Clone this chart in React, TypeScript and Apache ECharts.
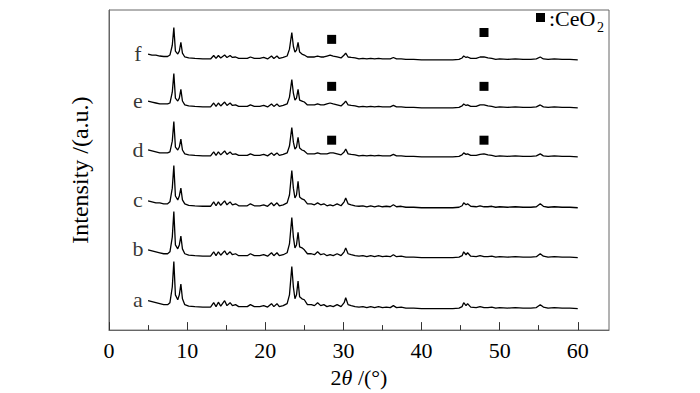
import React, { useEffect, useRef } from "react";
import * as echarts from "echarts";

const TWO_THETA = [
  5.0, 5.5, 6.0, 6.5, 7.0, 7.5, 7.8, 8.1, 8.3, 8.5,
  8.8, 9.0, 9.2, 9.4, 9.7, 10.2, 11.0, 12.0, 13.0, 13.4,
  13.7, 14.0, 14.3, 14.8, 15.1, 15.5, 15.8, 16.2, 16.6, 17.2,
  17.7, 18.1, 18.6, 19.3, 19.8, 20.3, 20.8, 21.1, 21.5, 21.8,
  22.3, 22.8, 23.1, 23.4, 23.6, 23.8, 24.0, 24.2, 24.4, 24.7,
  25.0, 25.4, 25.9, 26.3, 26.7, 27.1, 27.5, 27.9, 28.3, 28.7,
  29.2, 29.7, 30.1, 30.3, 30.6, 31.0, 31.5, 32.0, 32.5, 33.0,
  33.5, 34.0, 34.5, 35.0, 35.5, 36.0, 36.4, 36.8, 37.4, 38.0,
  39.0, 40.0, 41.0, 42.0, 43.0, 44.0, 44.8, 45.2, 45.4, 45.7,
  45.9, 46.3, 47.0, 47.5, 48.0, 48.5, 49.0, 49.5, 50.0, 51.0,
  52.0, 53.0, 54.0, 54.7, 55.2, 55.6, 56.2, 57.0, 58.0, 59.0, 60.0,
];

const SAMPLE_NAMES = ["a", "b", "c", "d", "e", "f"];
const OFFSETS = [22, 74, 125, 177, 227, 276];

const INT_A = [
  8, 7, 6, 5, 4, 4, 6, 22, 48, 14,
  9, 14, 25, 10, 4, 2.5, 2, 1.5, 1.5, 6,
  2, 6.5, 2.5, 8, 3, 6, 3, 4, 2, 2,
  2, 4, 2, 2, 3, 1.5, 5, 2, 5, 2,
  3, 5, 14, 43, 22, 10, 14, 28, 12, 10,
  9, 4, 4, 3, 6, 3, 4, 2, 3, 2,
  4, 2, 6, 11, 4, 3, 2, 1.5, 2, 1,
  2, 1, 2, 1, 1.5, 1, 3, 1, 1.5, 0.5,
  0.5, 0, 0, 0, 0, 0, 0.5, 2, 6, 3,
  5, 1.5, 1, 2, 1, 1, 1.5, 0.5, 1, 0.5,
  1, 0.5, 0.5, 1, 4, 1.5, 0.5, 1, 0.5, 0.5, 0,
];
const INT_B = [
  8, 7, 6, 5, 4, 4, 6, 21, 47, 13,
  9, 13, 22, 9, 4, 2.5, 2, 1.5, 1.5, 6,
  2, 6, 2.5, 7, 3, 6, 3, 4, 2, 2,
  2, 4, 2, 2, 3, 1.5, 5, 2, 5, 2,
  3, 5, 14, 41, 21, 10, 13, 26, 11, 10,
  8, 4, 4, 3, 6, 3, 4, 2, 3, 2,
  4, 2, 6, 10, 4, 3, 2, 1.5, 2, 1,
  2, 1, 2, 1, 1.5, 1, 3, 1, 1.5, 0.5,
  0.5, 0, 0, 0, 0, 0, 0.5, 2, 6, 3,
  5, 1.5, 1, 2, 1, 1, 1.5, 0.5, 1, 0.5,
  1, 0.5, 0.5, 1, 4, 1.5, 0.5, 1, 0.5, 0.5, 0,
];
const INT_C = [
  7, 6, 5, 5, 4, 4, 6, 20, 43, 12,
  8, 12, 20, 8, 4, 2.5, 2, 1.5, 1.5, 6,
  2, 6, 2.5, 7, 3, 6, 3, 4, 2, 2,
  2, 4, 2, 2, 3, 1.5, 5, 2, 5, 2,
  3, 5, 13, 38, 20, 10, 13, 27, 11, 9,
  8, 4, 4, 3, 5, 3, 4, 2, 3, 2,
  4, 2, 6, 10, 4, 3, 2, 1.5, 2, 1,
  2, 1, 2, 1, 1.5, 1, 3, 1, 1.5, 0.5,
  0.5, 0, 0, 0, 0, 0, 0.5, 2, 5, 3,
  4, 1.5, 1, 2, 1, 1, 1.5, 0.5, 1, 0.5,
  1, 0.5, 0.5, 1, 4, 1.5, 0.5, 1, 0.5, 0.5, 0,
];
const INT_D = [
  7, 6, 5, 4, 4, 4, 5, 16, 36, 10,
  7, 10, 18, 7, 3, 2, 1.5, 1, 1, 5,
  1.5, 5, 2, 6, 2.5, 5, 2.5, 3, 1.5, 1.5,
  1.5, 3, 1.5, 1.5, 2.5, 1, 4, 1.5, 4, 1.5,
  2.5, 4, 11, 30, 15, 8, 10, 20, 9, 7,
  6, 3, 3, 3, 4, 3, 3, 3, 4, 4,
  3, 2, 5, 8, 3, 2.5, 2, 1, 1.5, 1,
  1.5, 1, 1.5, 1, 1, 1, 2.5, 1, 1, 0.5,
  0.5, 0, 0, 0, 0, 0, 0.5, 2, 4, 2.5,
  3, 1.5, 1.5, 2.5, 3, 2, 1.5, 0.5, 1, 0.5,
  1, 0.5, 0.5, 1, 3, 1, 0.5, 1, 0.5, 0.5, 0,
];
const INT_E = [
  7, 6, 5, 4, 4, 4, 5, 16, 35, 10,
  7, 10, 19, 7, 3, 2, 1.5, 1, 1, 5,
  1.5, 5, 2, 6, 2.5, 5, 2.5, 3, 1.5, 1.5,
  1.5, 3, 1.5, 1.5, 2.5, 1, 4, 1.5, 4, 1.5,
  2.5, 4, 11, 29, 15, 8, 10, 19, 8, 7,
  6, 3, 3, 3, 4, 3, 3, 4, 5, 4,
  3, 2, 5, 7, 3, 2.5, 2, 1, 1.5, 1,
  1.5, 1, 1.5, 1, 1, 1, 2.5, 1, 1, 0.5,
  0.5, 0, 0, 0, 0, 0, 0.5, 2, 4, 2.5,
  3, 1.5, 1.5, 3, 3, 2, 1.5, 0.5, 1, 0.5,
  1, 0.5, 0.5, 1, 3, 1, 0.5, 1, 0.5, 0.5, 0,
];
const INT_F = [
  6, 5, 5, 4, 3.5, 3.5, 5, 15, 33, 9,
  6, 9, 18, 7, 3, 2, 1.5, 1, 1, 4.5,
  1.5, 4.5, 2, 5, 2.5, 4.5, 2.5, 3, 1.5, 1.5,
  1.5, 3, 1.5, 1.5, 2.5, 1, 4, 1.5, 4, 1.5,
  2.5, 4, 11, 28, 14, 8, 10, 18, 8, 6,
  5, 3, 3, 3, 4, 3, 3, 4, 5, 4,
  3, 2, 5, 7, 3, 2.5, 2, 1, 1.5, 1,
  1.5, 1, 1.5, 1, 1, 1, 2.5, 1, 1, 0.5,
  0.5, 0, 0, 0, 0, 0, 0.5, 2, 4, 2.5,
  3, 1.5, 1.5, 3, 3, 2, 1.5, 0.5, 1, 0.5,
  1, 0.5, 0.5, 1, 3, 1, 0.5, 1, 0.5, 0.5, 0,
];
const INTENSITIES = [INT_A, INT_B, INT_C, INT_D, INT_E, INT_F];

const CEO2_THETA = [28.5, 48.0];
const CEO2_Y_D = [194, 194];
const CEO2_Y_E = [249, 249];
const CEO2_Y_F = [297, 304];

const X_TICKS = [0, 10, 20, 30, 40, 50, 60];
const X_MINOR = [5, 15, 25, 35, 45, 55];
const LABEL_THETA = 3.7;

const FONT = "'Liberation Serif', 'Times New Roman', serif";
const FS = 22;

export default function App() {
  const ref = useRef<HTMLDivElement>(null);
  useEffect(() => {
    if (!ref.current) return;
    const chart = echarts.init(ref.current, null, { renderer: "svg" });

    const traceSeries = INTENSITIES.map((arr, k) => ({
      type: "line",
      name: SAMPLE_NAMES[k],
      data: TWO_THETA.map((t, i) => [t, OFFSETS[k] + arr[i]]),
      showSymbol: false,
      symbol: "none",
      lineStyle: { color: "#000", width: 1.3 },
      silent: true,
      z: 3,
    }));

    const letterSeries = {
      type: "scatter",
      symbolSize: 1,
      itemStyle: { color: "rgba(0,0,0,0)" },
      data: SAMPLE_NAMES.map((n, k) => ({
        value: [LABEL_THETA, OFFSETS[k] + INTENSITIES[k][0] + 1],
        name: n,
      })),
      label: {
        show: true,
        position: "inside",
        formatter: (p: any) => p.name,
        fontFamily: FONT,
        fontSize: FS,
        color: "#000",
      },
      silent: true,
    };

    const ceo2Series = {
      type: "scatter",
      symbol: "rect",
      symbolSize: 9,
      itemStyle: { color: "#000", opacity: 1 },
      data: [
        ...CEO2_THETA.map((t, i) => [t, CEO2_Y_D[i]]),
        ...CEO2_THETA.map((t, i) => [t, CEO2_Y_E[i]]),
        ...CEO2_THETA.map((t, i) => [t, CEO2_Y_F[i]]),
      ],
      silent: true,
      z: 4,
    };

    chart.setOption({
      animation: false,
      grid: {
        left: 109,
        right: 91,
        top: 10,
        bottom: 56,
        show: true,
        borderColor: "#666",
        borderWidth: 1,
      },
      xAxis: [
        {
          type: "value",
          min: 0,
          max: 64,
          interval: 10,
          name: "2{it|θ} /(°)",
          nameLocation: "middle",
          nameGap: 31,
          nameTextStyle: {
            fontFamily: FONT,
            fontSize: FS,
            color: "#000",
            rich: {
              it: { fontFamily: FONT, fontSize: FS, fontStyle: "italic", color: "#000" },
            },
          },
          axisLine: { show: true, lineStyle: { color: "#666", width: 1 } },
          axisTick: {
            show: true,
            inside: true,
            length: 8,
            customValues: X_TICKS,
            lineStyle: { color: "#333", width: 1 },
          },
          axisLabel: {
            show: true,
            customValues: X_TICKS,
            margin: 9,
            fontFamily: FONT,
            fontSize: FS,
            color: "#000",
            formatter: (v: number) => (v <= 60 ? String(v) : ""),
          },
          splitLine: { show: false },
        },
        {
          type: "value",
          min: 0,
          max: 64,
          position: "bottom",
          axisLine: { show: false },
          axisTick: {
            show: true,
            inside: true,
            length: 5,
            customValues: X_MINOR,
            lineStyle: { color: "#333", width: 1 },
          },
          axisLabel: { show: false },
          splitLine: { show: false },
        },
      ],
      yAxis: {
        type: "value",
        min: 0,
        max: 327,
        name: "Intensity /(a.u.)",
        nameLocation: "middle",
        nameGap: 17,
        nameTextStyle: { fontFamily: FONT, fontSize: 24, color: "#000" },
        axisLine: { show: true, lineStyle: { color: "#666", width: 1 } },
        axisTick: { show: false },
        axisLabel: { show: false },
        splitLine: { show: false },
      },
      graphic: [
        {
          type: "rect",
          shape: { x: 536, y: 13, width: 9, height: 9 },
          style: { fill: "#000" },
        },
        {
          type: "text",
          x: 549,
          y: 18,
          style: {
            text: ":CeO",
            fontFamily: FONT,
            fontSize: FS,
            fill: "#000",
            verticalAlign: "middle",
            align: "left",
          },
        },
        {
          type: "text",
          x: 597,
          y: 27,
          style: {
            text: "2",
            fontFamily: FONT,
            fontSize: 14,
            fill: "#000",
            verticalAlign: "middle",
            align: "left",
          },
        },
      ],
      series: [...traceSeries, letterSeries, ceo2Series],
    });

    return () => chart.dispose();
  }, []);

  return <div ref={ref} style={{ width: 700, height: 393, position: "absolute", left: 0, top: 0 }} />;
}
